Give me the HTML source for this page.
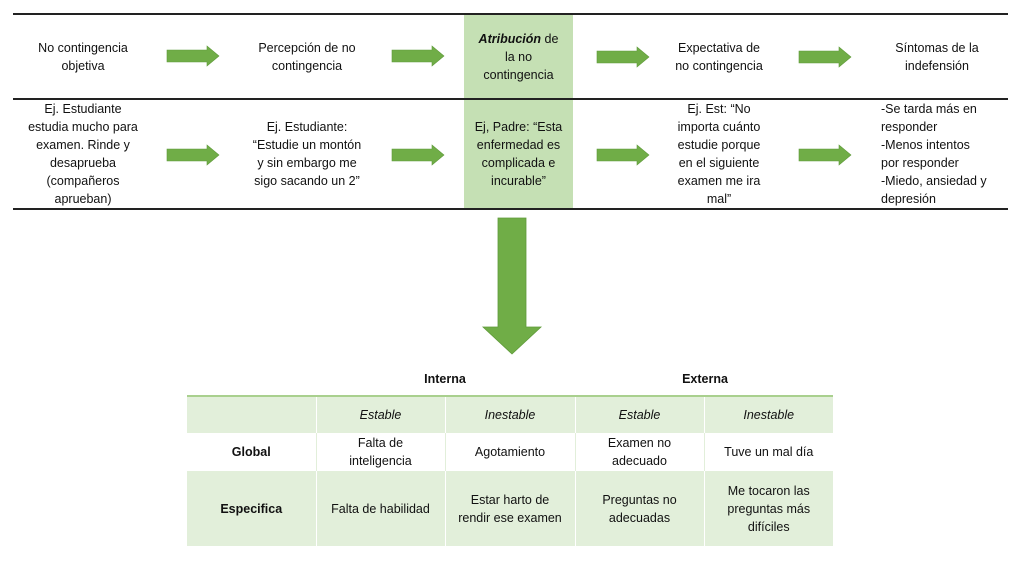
<!DOCTYPE html>
<html><head><meta charset="utf-8"><style>
body{margin:0;width:1034px;height:578px;background:#fff;position:relative;font-family:"Liberation Sans","DejaVu Sans",sans-serif;font-size:12.5px;color:#111;overflow:hidden}
.t{position:absolute;text-align:center;line-height:18px}
.hl{position:absolute;left:13px;width:995px;height:2px;background:#222}
td{padding:0;text-align:center;line-height:18px;font-size:12.5px}
</style></head><body>
<div style="position:absolute;left:464px;top:15px;width:109px;height:194px;background:#c5e0b4"></div>
<div class="hl" style="top:13px"></div>
<div class="hl" style="top:98px"></div>
<div class="hl" style="top:208px"></div>

<div class="t" style="left:13px;width:140px;top:39px">No contingencia<br>objetiva</div>
<div class="t" style="left:237px;width:140px;top:39px">Percepción de no<br>contingencia</div>
<div class="t" style="left:464px;width:109px;top:30px"><b><i>Atribución</i></b> de<br>la no<br>contingencia</div>
<div class="t" style="left:649px;width:140px;top:39px">Expectativa de<br>no contingencia</div>
<div class="t" style="left:867px;width:140px;top:39px">Síntomas de la<br>indefensión</div>

<div class="t" style="left:13px;width:140px;top:100px">Ej. Estudiante<br>estudia mucho para<br>examen. Rinde y<br>desaprueba<br>(compañeros<br>aprueban)</div>
<div class="t" style="left:237px;width:140px;top:118px">Ej. Estudiante:<br>“Estudie un montón<br>y sin embargo me<br>sigo sacando un 2”</div>
<div class="t" style="left:464px;width:109px;top:118px">Ej, Padre: “Esta<br>enfermedad es<br>complicada e<br>incurable”</div>
<div class="t" style="left:649px;width:140px;top:100px">Ej. Est: “No<br>importa cuánto<br>estudie porque<br>en el siguiente<br>examen me ira<br>mal”</div>
<div class="t" style="left:881px;width:140px;top:100px;text-align:left">-Se tarda más en<br>responder<br>-Menos intentos<br>por responder<br>-Miedo, ansiedad y<br>depresión</div>

<svg width="1034" height="578" style="position:absolute;left:0;top:0">
<defs><polygon id="a" points="0,-6 40,-6 40,-10 52,0 40,10 40,6 0,6" fill="#70ad47" stroke="#5f9a3a" stroke-width="0.6"/></defs>
<use href="#a" x="167" y="56"/><use href="#a" x="392" y="56"/><use href="#a" x="597" y="57"/><use href="#a" x="799" y="57"/>
<use href="#a" x="167" y="155"/><use href="#a" x="392" y="155"/><use href="#a" x="597" y="155"/><use href="#a" x="799" y="155"/>
<polygon points="498,218 526,218 526,327 541,327 512,354 483,327 498,327" fill="#70ad47" stroke="#5f9a3a" stroke-width="0.8"/>
</svg>

<div class="t" style="left:380px;width:130px;top:370px"><b>Interna</b></div>
<div class="t" style="left:640px;width:130px;top:370px"><b>Externa</b></div>
<table style="position:absolute;left:187px;top:395px;width:646px;border-collapse:collapse;border-top:2px solid #a9d08e">
<colgroup><col style="width:129px"><col style="width:129px"><col style="width:130px"><col style="width:129px"><col style="width:129px"></colgroup>
<tr style="height:37px;background:#e2efda"><td></td><td style="border-left:1px solid #fff"><i>Estable</i></td><td style="border-left:1px solid #fff"><i>Inestable</i></td><td style="border-left:1px solid #fff"><i>Estable</i></td><td style="border-left:1px solid #fff"><i>Inestable</i></td></tr>
<tr style="height:38px"><td><b>Global</b></td><td style="border-left:1px solid #e2efda">Falta de<br>inteligencia</td><td style="border-left:1px solid #e2efda">Agotamiento</td><td style="border-left:1px solid #e2efda">Examen no<br>adecuado</td><td style="border-left:1px solid #e2efda">Tuve un mal día</td></tr>
<tr style="height:75px;background:#e2efda"><td><b>Especifica</b></td><td style="border-left:1px solid #fff">Falta de habilidad</td><td style="border-left:1px solid #fff">Estar harto de<br>rendir ese examen</td><td style="border-left:1px solid #fff">Preguntas no<br>adecuadas</td><td style="border-left:1px solid #fff">Me tocaron las<br>preguntas más<br>difíciles</td></tr>
</table>
</body></html>
